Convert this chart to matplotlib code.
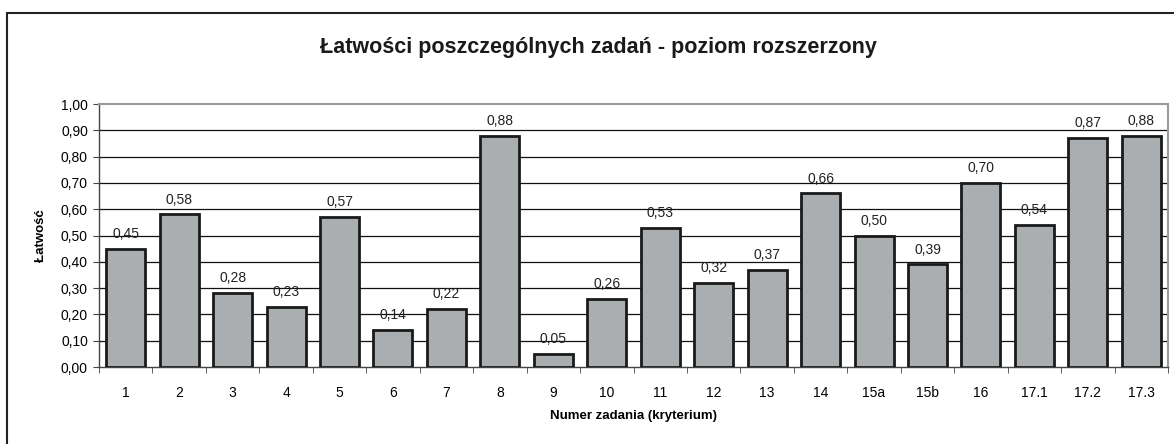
import matplotlib.pyplot as plt
import numpy as np
from matplotlib.patches import Rectangle

plt.rcParams['font.family'] = ['Liberation Sans', 'DejaVu Sans']

# Data
tasks = ['1', '2', '3', '4', '5', '6', '7', '8', '9', '10', '11', '12', '13',
         '14', '15a', '15b', '16', '17.1', '17.2', '17.3']
easiness = [0.45, 0.58, 0.28, 0.23, 0.57, 0.14, 0.22, 0.88, 0.05, 0.26, 0.53,
            0.32, 0.37, 0.66, 0.50, 0.39, 0.70, 0.54, 0.87, 0.88]
yticks = [0.0, 0.1, 0.2, 0.3, 0.4, 0.5, 0.6, 0.7, 0.8, 0.9, 1.0]

fig = plt.figure(figsize=(11.74, 4.44), dpi=100)
ax = fig.add_axes([99 / 1174, 77 / 444, 1069 / 1174, 263 / 444])

# outer chart frame
fig.patches.append(Rectangle((7 / 1174, -0.1), 1.2, (444 - 13) / 444 + 0.1,
                             transform=fig.transFigure, fill=False,
                             edgecolor='#222222', linewidth=1.5))

x = np.arange(len(tasks))
ax.bar(x, easiness, width=0.73, color='#abaeb1', edgecolor='#1a1a1a',
       linewidth=2, zorder=3)

for xi, v in zip(x, easiness):
    ax.text(xi, v + 0.03, f'{v:.2f}'.replace('.', ','), ha='center',
            va='bottom', fontsize=10, color='#222222')

ax.set_xlim(-0.5, len(tasks) - 0.5)
ax.set_ylim(0, 1.0)
ax.set_yticks(yticks)
ax.set_yticklabels([f'{t:.2f}'.replace('.', ',') for t in yticks], fontsize=10)
ax.set_xticks(x)
ax.set_xticklabels(tasks, fontsize=10)
ax.tick_params(axis='x', length=0, pad=14)
ax.set_xticks(np.arange(-0.5, len(tasks), 1), minor=True)
ax.tick_params(axis='x', which='minor', length=4, direction='out', color='#444444')
ax.tick_params(axis='y', length=4, direction='out', color='#444444', pad=4)

for t in yticks[1:-1]:
    ax.axhline(t, color='#111111', linewidth=0.9, zorder=1)

for side in ['top', 'right']:
    ax.spines[side].set_color('#999999')
    ax.spines[side].set_linewidth(1.5)
for side in ['left', 'bottom']:
    ax.spines[side].set_color('#444444')
    ax.spines[side].set_linewidth(1)

ax.set_xlabel('Numer zadania (kryterium)', fontsize=9.5, fontweight='bold', labelpad=7)
ax.set_ylabel('Łatwość', fontsize=9.5, fontweight='bold', labelpad=10)
fig.text(598 / 1174, 1 - 47 / 444,
         'Łatwości poszczególnych zadań - poziom rozszerzony',
         ha='center', va='center', fontsize=15.5, fontweight='bold',
         color='#1a1a1a')

fig.savefig('out.png', dpi=100)
